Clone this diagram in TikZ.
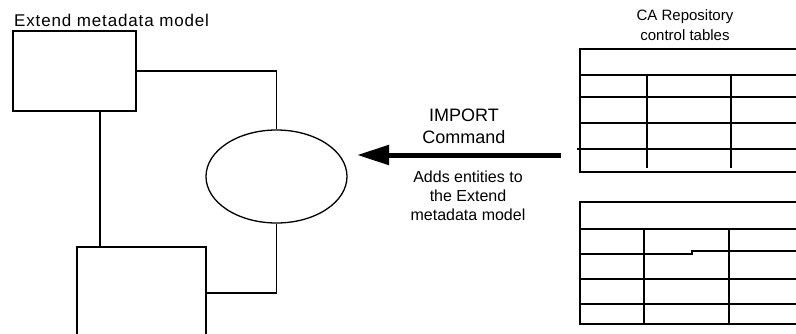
\documentclass[tikz,border=0pt]{standalone}
\usepackage{fontspec}
\setmainfont{Liberation Sans}
\usetikzlibrary{shapes.geometric,arrows.meta}
\begin{document}
\begin{tikzpicture}[x=1pt,y=-1pt,
  ln/.style={line width=1.3pt,black},
  box/.style={ln,draw,rectangle,inner sep=0pt},
  lbl/.style={inner sep=0pt,align=center},
  bigarrow/.style={line width=5pt,-{Triangle[length=32pt,width=19pt]}}]
\useasboundingbox (0,0) rectangle (796,333);
\fill[white] (0,0) rectangle (796,333);
% boxes
\node[box,minimum width=123pt,minimum height=80pt] (topbox) at (74.5,71) {};
\node[box,minimum width=129pt,minimum height=92pt] (botbox) at (141.5,293) {};
\node[ln,draw,ellipse,minimum width=141pt,minimum height=93pt,inner sep=0pt] (ell) at (276.5,176.5) {};
% connectors
\draw[ln] (topbox.east) -| (ell.north);
\draw[ln] (ell.south) |- (botbox.east);
\draw[ln] (topbox.south -| 100,0) -- (botbox.north -| 100,0);
% labels
\node[lbl,anchor=west,font=\fontsize{17}{19}\selectfont\addfontfeature{LetterSpace=5}] (title) at (14,20) {Extend metadata model};
\node[lbl,font=\fontsize{15}{20}\selectfont] (catitle) at (685,25) {CA Repository\\control tables};
\node[lbl,font=\fontsize{18}{22}\selectfont] (imp) at (464,126) {IMPORT\\Command};
\node[lbl,font=\fontsize{16}{19}\selectfont] (adds) at (468,196) {Adds entities to\\the Extend\\metadata model};
% tables
\node[ln,draw,rectangle,inner sep=0pt,minimum width=230pt,minimum height=123pt] (tabA) at (695,110.5) {};
\draw[ln] (580,75) -- (810,75);
\draw[ln] (580,97) -- (810,97);
\draw[ln] (580,123) -- (810,123);
\draw[ln] (577,149) -- (810,149);
\draw[ln] (647,75) -- (647,168);
\draw[ln] (731,75) -- (731,168);
\node[ln,draw,rectangle,inner sep=0pt,minimum width=230pt,minimum height=122pt] (tabB) at (695,263) {};
\draw[ln] (580,229) -- (810,229);
\draw[ln] (580,254) -- (692,254) -- (692,251) -- (810,251);
\draw[ln] (580,279) -- (810,279);
\draw[ln] (580,304) -- (810,304);
\draw[ln] (644,229) -- (644,324);
\draw[ln] (729,229) -- (729,324);
% arrow
\coordinate (arrS) at (561,155);
\coordinate (arrE) at (357,155);
\draw[bigarrow] (arrS) -- (arrE);
\end{tikzpicture}
\end{document}
